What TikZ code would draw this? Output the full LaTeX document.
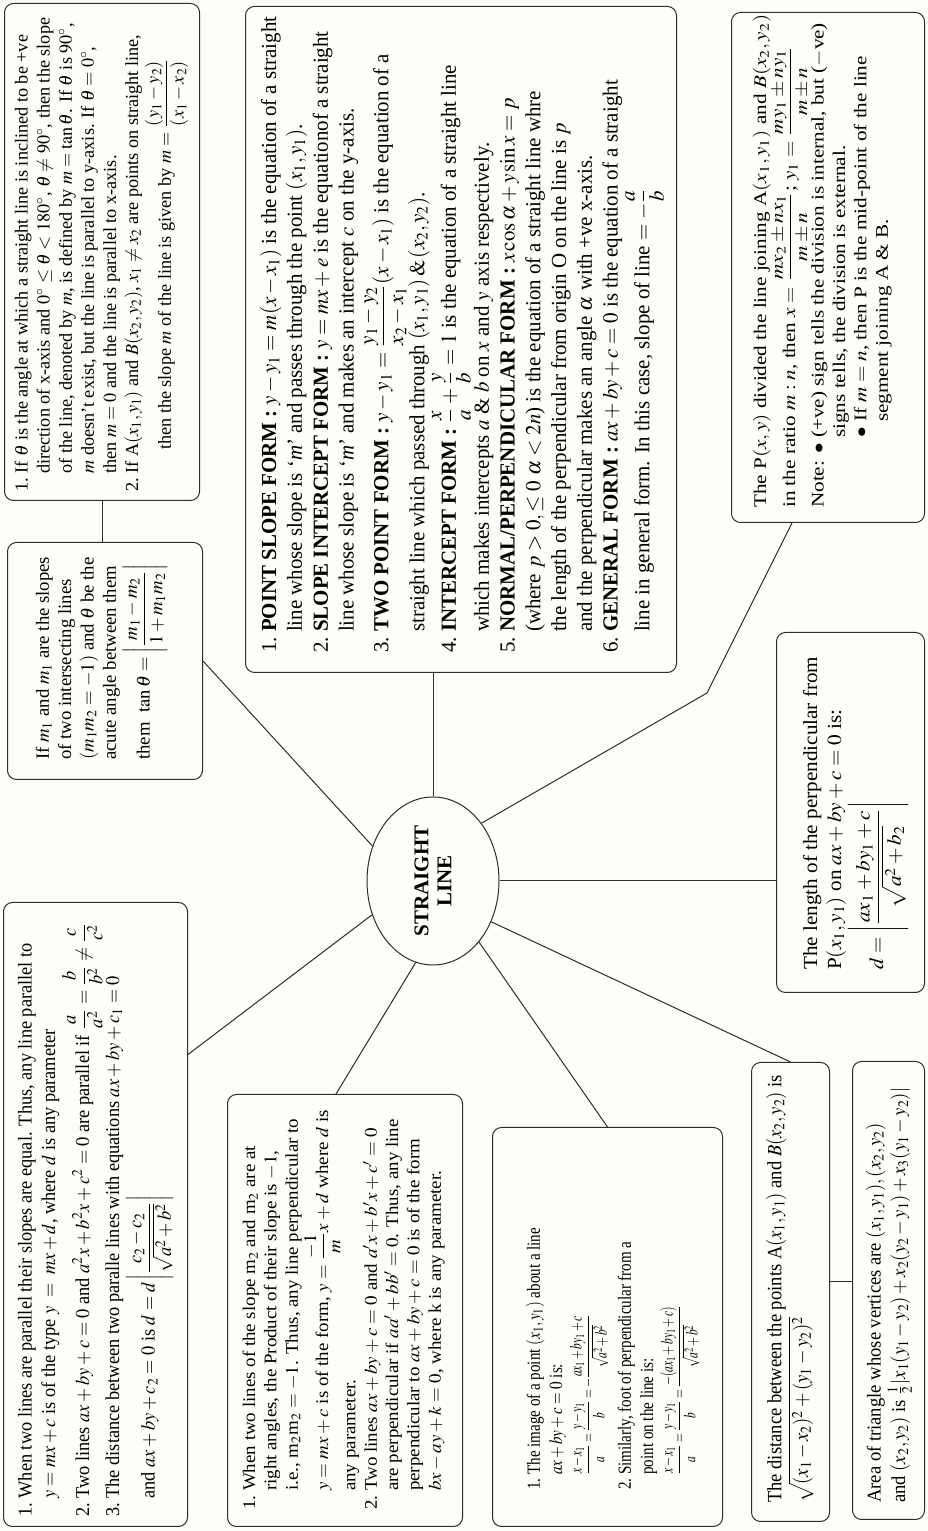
\documentclass[tikz,border=0pt]{standalone}
\usepackage{amsmath}
\usepackage{mathptmx}
\usepackage{fontspec}
\setmainfont{Liberation Serif}
\usepackage{graphicx}
\usetikzlibrary{shapes.geometric,calc}
\definecolor{ink}{RGB}{45,45,45}
\definecolor{paper}{RGB}{253,253,250}
\tikzset{
  box/.style={draw=ink, line width=1pt, rounded corners=9pt, anchor=north west, inner sep=0pt},
  txt/.style={anchor=north west, inner sep=0pt, font=\fontsize{10}{12}\selectfont},
  link/.style={draw=ink, line width=1pt},
  hub/.style={ellipse, draw=ink, line width=1pt, minimum width=168pt, minimum height=132pt,
    inner sep=0pt, font=\fontsize{21}{23}\selectfont\bfseries, align=center}
}
\begin{document}
\begin{tikzpicture}[x=1pt,y=1pt]
\begin{scope}[rotate=90, transform shape]
\fill[paper] (0,0) rectangle (1531,-928);
\useasboundingbox (0,0) rectangle (1531,-928);

% ---------- boxes ----------
\node[box, minimum width=497pt, minimum height=195pt] (A) at (1030,-4) {};
\node[box, minimum width=237pt, minimum height=195pt] (B) at (751,-7) {};
\node[box, minimum width=666pt, minimum height=431pt] (C) at (858,-245) {};
\node[box, minimum width=510pt, minimum height=193pt] (D) at (1008,-731) {};
\node[box, minimum width=360pt, minimum height=148pt] (E) at (538,-776) {};
\node[box, minimum width=459pt, minimum height=78pt] (F) at (9,-751) {};
\node[box, minimum width=458pt, minimum height=72pt] (G) at (11,-852) {};
\node[box, minimum width=399pt, minimum height=230pt] (H) at (4,-492) {};
\node[box, minimum width=432pt, minimum height=235pt] (I) at (4,-227) {};
\node[box, minimum width=624pt, minimum height=184pt] (J) at (4,-3) {};
\node[hub] (SL) at (650,-433) {STRAIGHT\\LINE};

% ---------- texts ----------
\node[txt] (At) at (1039,-12) {\resizebox*{474pt}{176pt}{\begin{tabular}{@{}l@{\ }l@{}}
1. & If $\theta$ is the angle at which a straight line is inclined to be +ve\\
 & direction of x-axis and $0^\circ\le\theta<180^\circ$, $\theta\ne90^\circ$, then the slope\\
 & of the line, denoted by $m$, is defined by $m=\tan\theta$. If $\theta$ is $90^\circ$,\\
 & $m$ doesn't exist, but the line is parallel to y-axis. If $\theta=0^\circ$,\\
 & then $m=0$ and the line is parallel to x-axis.\\
2. & If A$(x_1,y_1)$ and $B(x_2,y_2)$, $x_1\ne x_2$ are points on straight line,\\
 & \hspace{1.3em}then the slope $m$ of the line is given by $m=\dfrac{(y_1-y_2)}{(x_1-x_2)}$
\end{tabular}}};

\node[txt] (Bt) at (771,-33) {\resizebox*{203pt}{134pt}{\begin{tabular}{@{}l@{}}
If $m_1$ and $m_1$ are the slopes\\
of two intersecting lines\\
$(m_1m_2=-1)$ and $\theta$ be the\\
acute angle between them\\
them\ \ $\tan\theta=\left|\dfrac{m_1-m_2}{1+m_1m_2}\right|$
\end{tabular}}};

\node[txt] (Ct) at (878,-258) {\resizebox*{636pt}{406pt}{\begin{tabular}{@{}l@{\ }l@{}}
1. & \textbf{POINT SLOPE FORM :} $y-y_1=m(x-x_1)$ is the equation of a straight\\
 & line whose slope is `\textit{m}' and passes through the point $(x_1,y_1)$.\\
2. & \textbf{SLOPE INTERCEPT FORM :} $y=mx+e$ is the equationof a straight\\
 & line whose slope is `\textit{m}' and makes an intercept $c$ on the y-axis.\\
3. & \textbf{TWO POINT FORM :} $y-y_1=\dfrac{y_1-y_2}{x_2-x_1}(x-x_1)$ is the equation of a\\
 & straight line which passed through $(x_1,y_1)\,\&\,(x_2,y_2)$.\\
4. & \textbf{INTERCEPT FORM :} $\dfrac{x}{a}+\dfrac{y}{b}=1$ is the equation of a straight line\\
 & which makes intercepts $a$ \& $b$ on $x$ and $y$ axis respectively.\\
5. & \textbf{NORMAL/PERPENDICULAR FORM :} $x\cos\alpha+y\sin x=p$\\
 & (where $p>0,\le 0\ \alpha<2n$) is the equation of a straight line whre\\
 & the length of the perpendicular from origin O on the line is $p$\\
 & and the perpendicular makes an angle $\alpha$ with +ve x-axis.\\
6. & \textbf{GENERAL FORM :} $ax+by+c=0$ is the equation of a straight\\
 & line in general form. In this case, slope of line $=-\dfrac{a}{b}$
\end{tabular}}};

\node[txt] (Dt) at (1023,-751) {\resizebox*{493pt}{143pt}{\begin{tabular}{@{}l@{}}
The P$(x,y)$ divided the line joining A$(x_1,y_1)$ and $B(x_2,y_2)$\\
in the ratio $m:n$, then $x=\dfrac{mx_2\pm nx_1}{m\pm n}$; $y_1=\dfrac{my_1\pm ny_1}{m\pm n}$\\
Note: $\bullet$ \begin{tabular}[t]{@{}l@{}}
(+ve) sign tells the division is internal, but ($-$ve)\\
signs tells, the division is external.\\
$\bullet$ If $m=n$, then P is the mid-point of the line\\
\phantom{$\bullet$ }segment joining A \& B.
\end{tabular}
\end{tabular}}};

\node[txt] (Et) at (561,-800) {\resizebox*{313pt}{108pt}{\begin{tabular}{@{}l@{}}
The length of the perpendicular from\\
P$(x_1,y_1)$ on $ax+by+c=0$ is:\\
$d=\left|\dfrac{ax_1+by_1+c}{\sqrt{a^2+b_2}}\right|$
\end{tabular}}};

\node[txt] (Ft) at (28,-764) {\resizebox*{428pt}{51pt}{\begin{tabular}{@{}l@{}}
The distance between the points A$(x_1,y_1)$ and $B(x_2,y_2)$ is\\
$\sqrt{(x_1-x_2)^2+(y_1-y_2)^2}$
\end{tabular}}};

\node[txt] (Gt) at (28,-864) {\resizebox*{415pt}{48pt}{\begin{tabular}{@{}l@{}}
Area of triangle whose vertices are $(x_1,y_1),(x_2,y_2)$\\
and $(x_2,y_2)$ is $\frac{1}{2}|x_1(y_1-y_2)+x_2(y_2-y_1)+x_3(y_1-y_2)|$
\end{tabular}}};

\node[txt] (Ht) at (41,-524) {\resizebox*{262pt}{182pt}{\begin{tabular}{@{}l@{\ }l@{}}
1. & The image of a point $(x_1,y_1)$ about a line\\
 & $ax+by+c=0$ is:\\
 & \raisebox{0pt}[13pt][12pt]{\scalebox{0.76}[0.9]{$\dfrac{x-x_1}{a}=\dfrac{y-y_1}{b}=-\dfrac{ax_1+by_1+c}{\sqrt{a^2+b^2}}$}}\\
2. & Similarly, foot of perpendicular from a\\
 & point on the line is:\\
 & \raisebox{0pt}[13pt][12pt]{\scalebox{0.76}[0.9]{$\dfrac{x-x_1}{a}=\dfrac{y-y_1}{b}=\dfrac{-(ax_1+by_1+c)}{\sqrt{a^2+b^2}}$}}
\end{tabular}}};

\node[txt] (It) at (21,-240) {\resizebox*{400pt}{207pt}{\begin{tabular}{@{}l@{\ }l@{}}
1. & When two lines of the slope m$_2$ and m$_2$ are at\\
 & right angles, the Product of their slope is $-1$,\\
 & i.e., m$_2$m$_2=-1$. Thus, any line perpendicular to\\
 & $y=mx+c$ is of the form, $y=\dfrac{-1}{m}x+d$ where $d$ is\\
 & any parameter.\\
2. & Two lines $ax+by+c=0$ and $a'x+b'x+c'=0$\\
 & are perpendicular if $aa'+bb'=0$. Thus, any line\\
 & perpendicular to $ax+by+c=0$ is of the form\\
 & $bx-ay+k=0$, where k is any parameter.
\end{tabular}}};

\node[txt] (Jt) at (14,-15) {\resizebox*{594pt}{158pt}{\begin{tabular}{@{}l@{\ }l@{}}
1. & When two lines are parallel their slopes are equal. Thus, any line parallel to\\
 & $y=mx+c$ is of the type $y\ =\ mx+d$, where $d$ is any parameter\\
2. & Two lines $ax+by+c=0$ and $a^2x+b^2x+c^2=0$ are parallel if $\dfrac{a}{a^2}=\dfrac{b}{b^2}\ne\dfrac{c}{c^2}$\\
3. & The distance between two paralle lines with equations $ax+by+c_1=0$\\
 & and $ax+by+c_2=0$ is $d=d\left|\dfrac{c_2-c_2}{\sqrt{a^2+b^2}}\right|$
\end{tabular}}};

% ---------- connectors ----------
\coordinate (dk) at (838,-707);
\draw[link] (A.west) -- (A.west -| B.east);
\draw[link] (B.south) -- (SL.60);
\draw[link] (SL.east) -- (SL.east -| C.west);
\draw[link] ([yshift=36pt]D.west) -- (dk) -- (SL.-40);
\draw[link] (SL.south) -- (SL.south |- E.north);
\draw[link] (SL.235) -- (F.east);
\draw[link] ([xshift=10pt]F.south) -- ([xshift=10pt]F.south |- G.north);
\draw[link] (SL.217) -- (H.east);
\draw[link] (SL.168) -- ([yshift=9pt]I.east);
\draw[link] ([xshift=160pt]J.south) -- (SL.119);
\end{scope}
\end{tikzpicture}
\end{document}
